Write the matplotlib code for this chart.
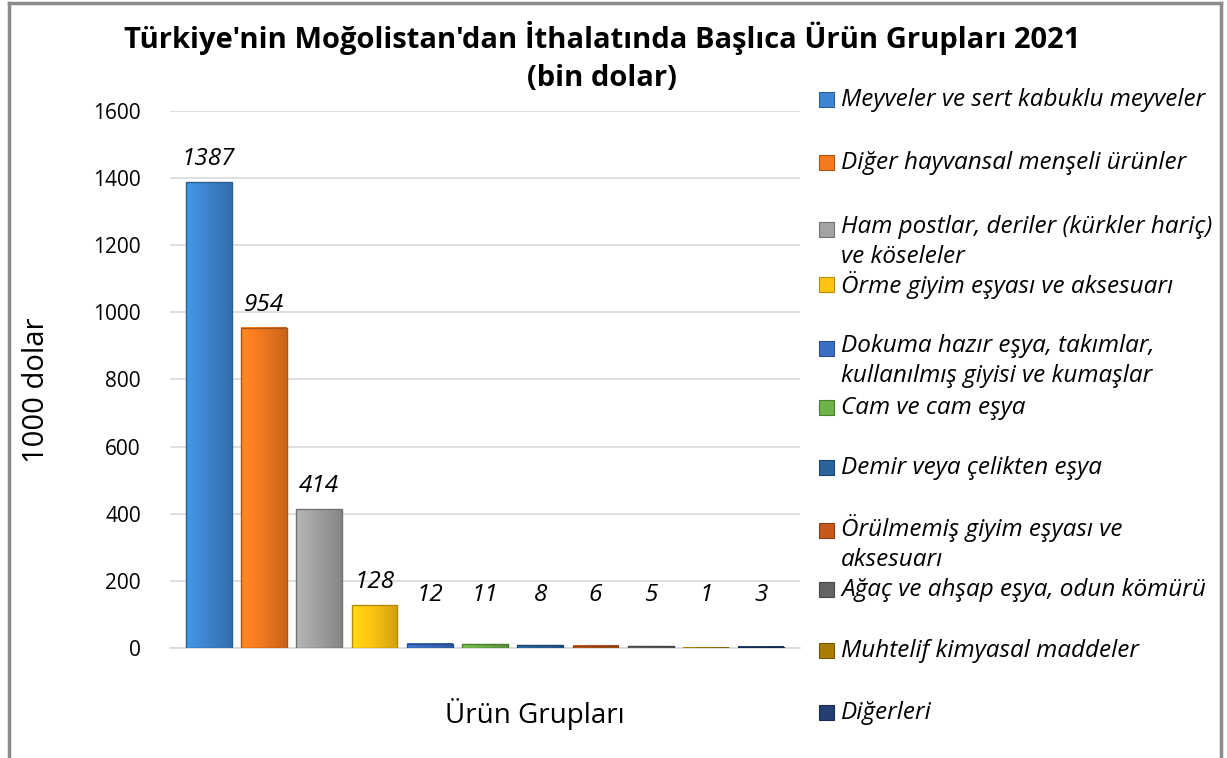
import numpy as np
import matplotlib
matplotlib.use("Agg")
import matplotlib.pyplot as plt
from matplotlib.patches import Rectangle
from matplotlib.lines import Line2D
from matplotlib.colors import to_rgb

plt.rcParams['font.family'] = ['Open Sans', 'DejaVu Sans']

title_lines = ["Türkiye'nin Moğolistan'dan İthalatında Başlıca Ürün Grupları 2021", "(bin dolar)"]
categories = [
    "Meyveler ve sert kabuklu meyveler",
    "Diğer hayvansal menşeli ürünler",
    "Ham postlar, deriler (kürkler hariç)\nve köseleler",
    "Örme giyim eşyası ve aksesuarı",
    "Dokuma hazır eşya, takımlar,\nkullanılmış giyisi ve kumaşlar",
    "Cam ve cam eşya",
    "Demir veya çelikten eşya",
    "Örülmemiş giyim eşyası ve\naksesuarı",
    "Ağaç ve ahşap eşya, odun kömürü",
    "Muhtelif kimyasal maddeler",
    "Diğerleri",
]
values = [1387, 954, 414, 128, 12, 11, 8, 6, 5, 1, 3]
colors = ["#3d87d2", "#f47a1f", "#a3a3a3", "#ffc511", "#3b6fc6", "#6db347",
          "#2a649c", "#c65a1e", "#646464", "#a87c05", "#243f72"]
yticks = [0, 200, 400, 600, 800, 1000, 1200, 1400, 1600]

fig = plt.figure(figsize=(12.27, 7.58), dpi=100)
W, H = 1227, 758
ax = fig.add_axes([170 / W, 1 - 648 / H, (800 - 170) / W, (648 - 111) / H])

x = np.arange(len(values))
bars = ax.bar(x, values, width=0.83, color=colors, zorder=2)

# soft horizontal gradient to mimic the bevelled Excel bars
for b, c in zip(bars, colors):
    rgb = np.array(to_rgb(c))
    t = np.linspace(0, 1, 64)
    shade = 1.12 - 0.3 * t
    grad = np.clip(rgb[None, :] * shade[:, None], 0, 1)[None, :, :]
    bx, bw, bh = b.get_x(), b.get_width(), b.get_height()
    ax.imshow(grad, extent=[bx, bx + bw, 0, bh], aspect='auto', zorder=3)
    ax.add_patch(Rectangle((bx, 0), bw, bh, fill=False,
                           edgecolor=np.clip(rgb * 0.7, 0, 1), lw=1, zorder=4))

for xi, v in zip(x, values):
    ax.annotate(str(v), (xi, max(v, 90)), xytext=(0, 8), textcoords='offset points',
                ha='center', va='bottom', fontsize=17.5, style='italic')

ax.set_xlim(-0.7, len(values) - 0.3)
ax.set_ylim(0, 1600)
ax.set_yticks(yticks)
ax.set_yticklabels([str(t) for t in yticks], fontsize=15)
ax.set_xticks([])
ax.tick_params(axis='y', length=0, pad=21)
ax.grid(axis='y', color='#d9d9d9', lw=1.2, zorder=0)
for s in ['top', 'right', 'left']:
    ax.spines[s].set_visible(False)
ax.spines['bottom'].set_color('#d9d9d9')
ax.spines['bottom'].set_linewidth(1.2)
ax.set_ylabel("1000 dolar", fontsize=21)
ax.yaxis.set_label_coords((51 - 170) / 630, 0.48)
ax.set_xlabel("Ürün Grupları", fontsize=20)
ax.xaxis.set_label_coords((535 - 170) / 630, -(698 - 648) / 537)

fig.text(602 / W, 1 - 38 / H, title_lines[0], ha='center', va='center', fontsize=21,
         fontweight='bold')
fig.text(602 / W, 1 - 79 / H, title_lines[1], ha='center', va='center', fontsize=21,
         fontweight='bold')

# legend entries on the right
leg_y = [100, 163, 242, 285, 361, 408, 468, 543, 590, 651, 713]
for yy, lab, c in zip(leg_y, categories, colors):
    nlines = lab.count("\n") + 1
    top = yy - (nlines - 1) * 12.5
    fig.patches.append(Rectangle((819 / W, 1 - (top + 7) / H), 15 / W, 15 / H,
                                 transform=fig.transFigure, facecolor=c,
                                 edgecolor=np.clip(np.array(to_rgb(c)) * 0.7, 0, 1), lw=0.8))
    fig.text(841 / W, 1 - yy / H, lab, ha='left', va='center', fontsize=17.5,
             style='italic', linespacing=1.3)

# outer frame
for xs, ys in [([9, 9], [3, 760]), ([1221, 1221], [3, 760]), ([9, 1221], [3, 3])]:
    fig.add_artist(Line2D([v / W for v in xs], [1 - v / H for v in ys],
                          transform=fig.transFigure, color='#8c8c8c', lw=2.5))

fig.savefig("out.png", dpi=100)
